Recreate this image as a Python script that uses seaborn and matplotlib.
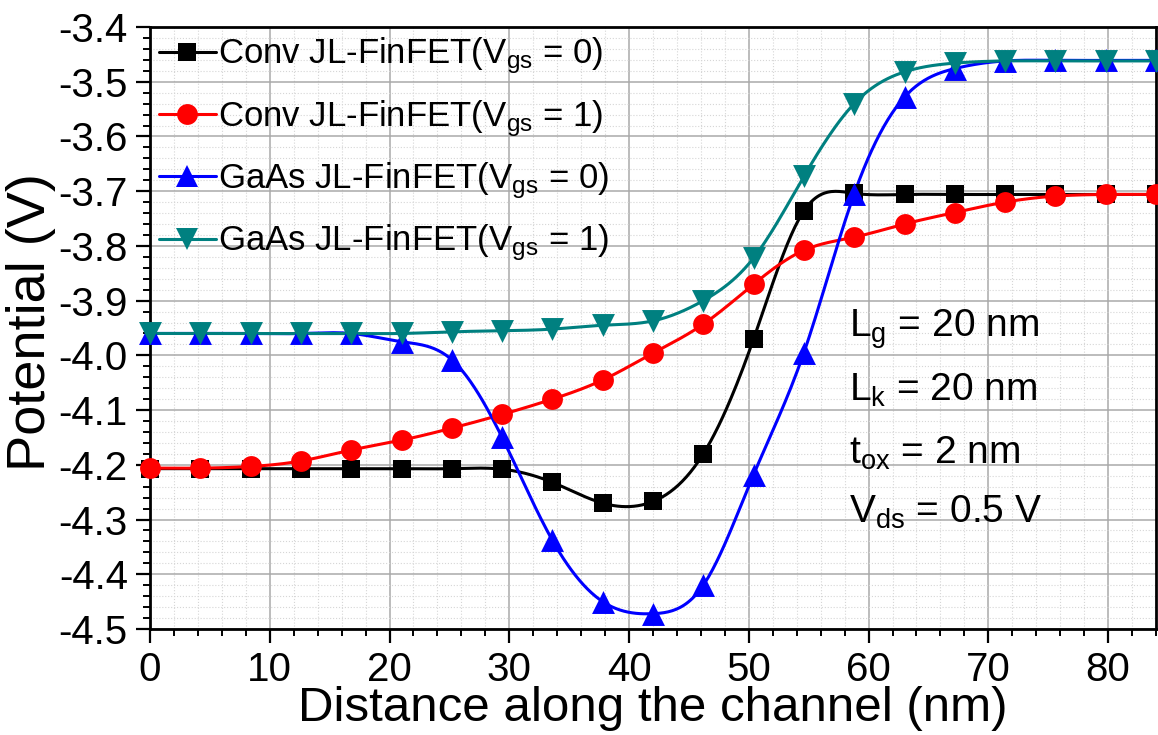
import numpy as np
import matplotlib
matplotlib.use("Agg")
import matplotlib.pyplot as plt
import seaborn as sns
from matplotlib.lines import Line2D
from matplotlib.ticker import MultipleLocator, FormatStrFormatter

# ---------------- data ----------------
distance = [0, 4.2, 8.4, 12.6, 16.8, 21.0, 25.2, 29.4, 33.6, 37.8, 42.0,
            46.2, 50.4, 54.6, 58.8, 63.0, 67.2, 71.4, 75.6, 79.8, 84.0]

conv_vgs0 = [-4.207, -4.207, -4.207, -4.207, -4.207, -4.207, -4.207, -4.208,
             -4.232, -4.270, -4.267, -4.180, -3.970, -3.736, -3.704, -3.706,
             -3.706, -3.706, -3.706, -3.706, -3.706]
conv_vgs1 = [-4.206, -4.206, -4.203, -4.193, -4.173, -4.155, -4.133, -4.108,
             -4.080, -4.045, -3.996, -3.943, -3.870, -3.808, -3.784, -3.760,
             -3.739, -3.720, -3.709, -3.706, -3.706]
gaas_vgs0 = [-3.960, -3.960, -3.960, -3.960, -3.960, -3.975, -4.008, -4.150,
             -4.338, -4.450, -4.472, -4.420, -4.218, -3.995, -3.705, -3.528,
             -3.476, -3.462, -3.461, -3.461, -3.461]
gaas_vgs1 = [-3.960, -3.960, -3.960, -3.960, -3.960, -3.960, -3.957, -3.955,
             -3.952, -3.945, -3.937, -3.900, -3.822, -3.673, -3.540, -3.482,
             -3.466, -3.462, -3.462, -3.462, -3.462]

labels = [r"Conv JL-FinFET(V$_{gs}$ = 0)",
          r"Conv JL-FinFET(V$_{gs}$ = 1)",
          r"GaAs JL-FinFET(V$_{gs}$ = 0)",
          r"GaAs JL-FinFET(V$_{gs}$ = 1)"]
annotations = [r"L$_{g}$ = 20 nm", r"L$_{k}$ = 20 nm",
               r"t$_{ox}$ = 2 nm", r"V$_{ds}$ = 0.5 V"]
annot_y = [-3.965, -4.082, -4.198, -4.305]

# ---------------- styling ----------------
series = [conv_vgs0, conv_vgs1, gaas_vgs0, gaas_vgs1]
colors = ["#000000", "#ff0000", "#0000ff", "#008080"]
markers = ["s", "o", "^", "v"]
msizes = [12.5, 15.0, 16.5, 16.5]


def natural_spline(x, y, n=500):
    x = np.asarray(x, float)
    y = np.asarray(y, float)
    k = len(x)
    h = np.diff(x)
    A = np.zeros((k, k))
    b = np.zeros(k)
    A[0, 0] = A[-1, -1] = 1.0
    for i in range(1, k - 1):
        A[i, i - 1] = h[i - 1]
        A[i, i] = 2 * (h[i - 1] + h[i])
        A[i, i + 1] = h[i]
        b[i] = 3 * ((y[i + 1] - y[i]) / h[i] - (y[i] - y[i - 1]) / h[i - 1])
    c = np.linalg.solve(A, b)
    bb = (y[1:] - y[:-1]) / h - h * (2 * c[:-1] + c[1:]) / 3
    d = (c[1:] - c[:-1]) / (3 * h)
    xs = np.linspace(x[0], x[-1], n)
    idx = np.clip(np.searchsorted(x, xs, side="right") - 1, 0, k - 2)
    dx = xs - x[idx]
    ys = y[idx] + bb[idx] * dx + c[idx] * dx ** 2 + d[idx] * dx ** 3
    return xs, ys


sns.set_theme(style="white")
plt.rcParams["font.family"] = ["Liberation Sans", "DejaVu Sans"]
plt.rcParams["mathtext.default"] = "regular"
plt.rcParams["axes.unicode_minus"] = False

W, H = 1158, 735
fig = plt.figure(figsize=(W / 100, H / 100), dpi=100)
fig.patch.set_facecolor("white")
L, R, T, B = 150, 1156, 27, 629
ax = fig.add_axes([L / W, 1 - B / H, (R - L) / W, (B - T) / H])
ax.set_facecolor("white")

handles = []
for vals, col, mk, ms in zip(series, colors, markers, msizes):
    xs, ys = natural_spline(distance, vals)
    sns.lineplot(x=xs, y=ys, color=col, linewidth=2.2, ax=ax, legend=False,
                 zorder=3, estimator=None, sort=False)
    sns.scatterplot(x=distance, y=vals, marker=mk, s=ms ** 2, color=col,
                    edgecolor=col, linewidth=0, ax=ax, legend=False,
                    zorder=4, clip_on=False)
    handles.append(Line2D([], [], color=col, lw=2.2, marker=mk,
                          markersize=ms, markeredgewidth=0))

ax.set_xlim(0, 84)
ax.set_ylim(-4.5, -3.4)
ax.xaxis.set_major_locator(MultipleLocator(10))
ax.xaxis.set_minor_locator(MultipleLocator(2))
ax.yaxis.set_major_locator(MultipleLocator(0.1))
ax.yaxis.set_minor_locator(MultipleLocator(0.02))
ax.yaxis.set_major_formatter(FormatStrFormatter("%.1f"))

ax.set_axisbelow(True)
ax.grid(which="major", color="#a9a9a9", linewidth=1.1)
ax.grid(which="minor", color="#d6d6d6", linewidth=0.8, linestyle=":")

for sp in ax.spines.values():
    sp.set_color("black")
    sp.set_linewidth(2.0)
    sp.set_visible(True)

ax.tick_params(which="major", direction="out", length=10, width=1.6,
               labelsize=29, pad=6, bottom=True, left=True, top=False,
               right=False, colors="black")
ax.tick_params(which="minor", direction="out", length=5, width=1.4,
               bottom=True, left=True, top=False, right=False, colors="black")

ax.set_xlabel("Distance along the channel (nm)", fontsize=35.5, color="black")
ax.set_ylabel("Potential (V)", fontsize=39, color="black")
ax.xaxis.set_label_coords(0.5, -0.095)
ax.yaxis.set_label_coords(-0.093, 0.51)

for txt, yv in zip(annotations, annot_y):
    ax.text(58.4, yv, txt, fontsize=28, color="black", va="baseline",
            ha="left", zorder=5)

leg = ax.legend(handles, labels, loc="upper left", bbox_to_anchor=(0, 1),
                frameon=False, fontsize=25, handlelength=1.65,
                handletextpad=0.05, borderaxespad=0.0, borderpad=0.25,
                labelspacing=0.62)
for t in leg.get_texts():
    t.set_color("black")

fig.savefig("out.png", dpi=100, facecolor="white")
